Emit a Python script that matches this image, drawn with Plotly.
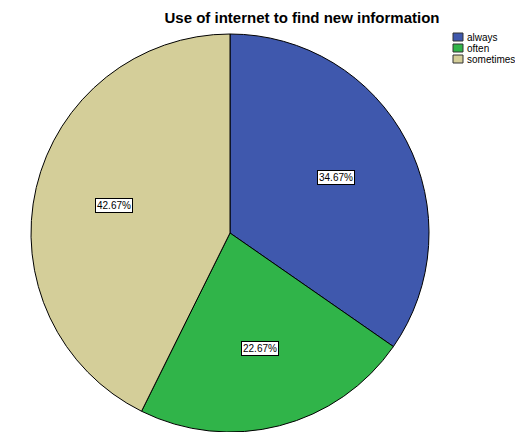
import math
import plotly.graph_objects as go

# ---- data ----
categories = ["always", "often", "sometimes"]
counts = [26, 17, 32]
colors = ["#3F58AD", "#30B449", "#D4CE99"]
title_text = "Use of internet to find new information"

W, H = 515, 432
# pie placement (pixels)
CX, CY, R = 230, 233, 199

total = sum(counts)
percents = [c / total * 100 for c in counts]

fig = go.Figure()
fig.add_trace(go.Pie(
    labels=categories,
    values=counts,
    sort=False,
    direction="clockwise",
    rotation=0,
    textinfo="none",
    marker=dict(colors=colors, line=dict(color="#000000", width=1)),
    domain=dict(x=[(CX - R) / W, (CX + R) / W], y=[(H - CY - R) / H, (H - CY + R) / H]),
    showlegend=False,
    hovertemplate="%{label}: %{percent}<extra></extra>",
))

annotations = []
# percentage labels in boxes, positioned from the slice mid-angles
cum = 0.0
label_frac = 0.6
for p in percents:
    mid = (cum + p / 2) / 100 * 2 * math.pi
    cum += p
    px = CX + math.sin(mid) * R * label_frac
    py = CY - math.cos(mid) * R * label_frac
    annotations.append(dict(
        x=px / W, y=1 - py / H, xref="paper", yref="paper",
        text=f"{p:.2f}%", showarrow=False,
        font=dict(family="Liberation Sans, Arial, sans-serif", size=10, color="#000000"),
        bgcolor="#FFFFFF", bordercolor="#000000", borderwidth=1, borderpad=1,
        xanchor="center", yanchor="middle",
    ))

# custom compact legend
shapes = []
leg_x0, leg_y0, leg_dy = 453, 37, 11
for i, (cat, col) in enumerate(zip(categories, colors)):
    yc = leg_y0 + i * leg_dy
    shapes.append(dict(
        type="rect", xref="paper", yref="paper",
        x0=leg_x0 / W, x1=(leg_x0 + 10) / W,
        y0=1 - (yc + 4) / H, y1=1 - (yc - 4) / H,
        fillcolor=col, line=dict(color="#333333", width=1),
    ))
    annotations.append(dict(
        x=(leg_x0 + 12) / W, y=1 - yc / H, xref="paper", yref="paper",
        text=cat, showarrow=False, xanchor="left", yanchor="middle",
        font=dict(family="Liberation Sans, Arial, sans-serif", size=10, color="#000000"),
    ))

fig.update_layout(
    width=W, height=H, autosize=False,
    margin=dict(l=0, r=0, t=0, b=0),
    paper_bgcolor="#FFFFFF", plot_bgcolor="#FFFFFF",
    title=dict(
        text=f"<b>{title_text}</b>",
        x=302 / W, y=1 - 18 / H, xanchor="center", yanchor="middle",
        xref="paper", yref="paper",
        font=dict(family="Liberation Sans, Arial, sans-serif", size=15, color="#000000"),
    ),
    annotations=annotations,
    shapes=shapes,
    showlegend=False,
)

fig.write_html(
    "out.html",
    config={"displayModeBar": False},
    post_script="document.body.style.margin='0';document.body.style.padding='0';document.body.style.overflow='hidden';",
)
